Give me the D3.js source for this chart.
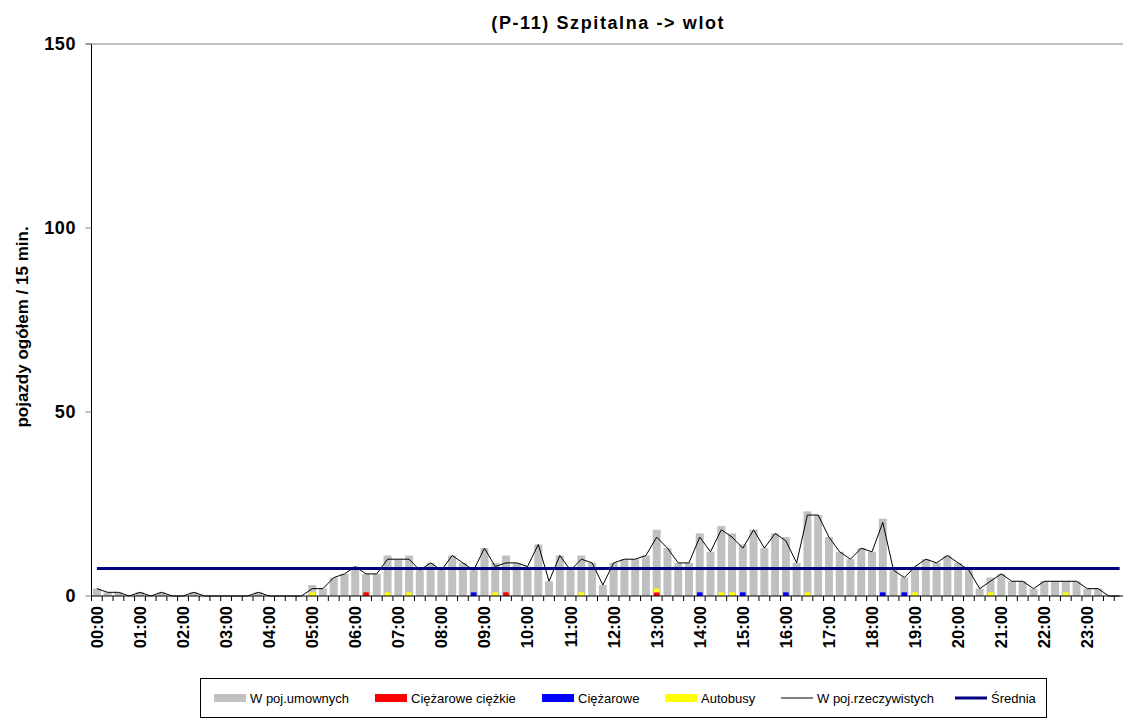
<!DOCTYPE html>
<html><head><meta charset="utf-8">
<script src="https://cdn.jsdelivr.net/npm/d3@7"></script>
<style>body{margin:0;background:#fff;} svg{display:block;}</style>
</head><body>
<svg id="chart" width="1123" height="723"></svg>
<script>
// ---- data ----
const title = "(P-11) Szpitalna -> wlot";
const yTitle = "pojazdy ogółem / 15 min.";
const hourLabels = ["00:00","01:00","02:00","03:00","04:00","05:00","06:00","07:00","08:00","09:00","10:00","11:00",
  "12:00","13:00","14:00","15:00","16:00","17:00","18:00","19:00","20:00","21:00","22:00","23:00"];
const quarters = ["00","15","30","45"];
const yTicks = [0, 50, 100, 150];
// W poj.umownych (PCU) per 15 min
const pcu = [2,1,1,0,1,0,1,0,0,1,0,0,0,0,0,1,0,0,0,0,3,2,5,6,
  8,6,6,11,10,11,7,9,7,11,9,7,13,9,11,9,8,14,4,11,7,11,9,3,
  9,10,10,11,18,13,9,9,17,12,19,17,14,18,13,17,16,9,23,22,16,12,10,13,
  12,21,7,5,8,10,9,11,9,7,2,5,6,4,4,2,4,4,4,4,2,2,0,0];
// W poj.rzeczywistych (real vehicles)
const real = [2,1,1,0,1,0,1,0,0,1,0,0,0,0,0,1,0,0,0,0,2,2,5,6,
  8,6,6,10,10,10,7,9,7,11,9,7,13,8,9,9,8,14,4,11,7,10,9,3,
  9,10,10,11,16,13,9,9,16,12,18,16,13,18,13,17,15,9,22,22,16,12,10,13,
  12,20,7,5,8,10,9,11,9,7,2,4,6,4,4,2,4,4,4,4,2,2,0,0];
// Ciężarowe ciężkie
const heavy = [0,0,0,0,0,0,0,0,0,0,0,0,0,0,0,0,0,0,0,0,0,0,0,0,
  0,1,0,0,0,0,0,0,0,0,0,0,0,0,1,0,0,0,0,0,0,0,0,0,
  0,0,0,0,1,0,0,0,0,0,0,0,0,0,0,0,0,0,0,0,0,0,0,0,
  0,0,0,0,0,0,0,0,0,0,0,0,0,0,0,0,0,0,0,0,0,0,0,0];
// Ciężarowe
const trucks = [0,0,0,0,0,0,0,0,0,0,0,0,0,0,0,0,0,0,0,0,0,0,0,0,
  0,0,0,0,0,0,0,0,0,0,0,1,0,0,0,0,0,0,0,0,0,0,0,0,
  0,0,0,0,0,0,0,0,1,0,0,0,1,0,0,0,1,0,0,0,0,0,0,0,
  0,1,0,1,0,0,0,0,0,0,0,0,0,0,0,0,0,0,0,0,0,0,0,0];
// Autobusy
const buses = [0,0,0,0,0,0,0,0,0,0,0,0,0,0,0,0,0,0,0,0,1,0,0,0,
  0,0,0,1,0,1,0,0,0,0,0,0,0,1,0,0,0,0,0,0,0,1,0,0,
  0,0,0,0,1,0,0,0,0,0,1,1,0,0,0,0,0,0,1,0,0,0,0,0,
  0,0,0,0,1,0,0,0,0,0,0,1,0,0,0,0,0,0,1,0,0,0,0,0];
const average = 7.5;
const legendItems = [
  {label:"W poj.umownych", type:"rect", color:"#c0c0c0"},
  {label:"Ciężarowe ciężkie", type:"rect", color:"#ff0000"},
  {label:"Ciężarowe", type:"rect", color:"#0000ff"},
  {label:"Autobusy", type:"rect", color:"#ffff00"},
  {label:"W poj.rzeczywistych", type:"line", color:"#000000", width:1},
  {label:"Średnia", type:"line", color:"#000080", width:3}
];
const categories = hourLabels.flatMap(h => quarters.map(q => h.slice(0,3) + q));

// ---- layout ----
const svg = d3.select("#chart");
const FONT = "Arial, 'Liberation Sans', sans-serif";
const x0 = 91.5, x1 = 1125, yTop = 44, yBot = 596;
const x = d3.scaleBand().domain(categories).range([x0, x1]).padding(0);
const y = d3.scaleLinear().domain([0, 150]).range([yBot, yTop]);
const bw = x.bandwidth();

// title
svg.append("text").attr("x", (x0 + x1) / 2).attr("y", 29).attr("text-anchor", "middle")
  .attr("font-family", FONT).attr("font-weight", "bold").attr("font-size", 18)
  .attr("letter-spacing", 1.6).text(title);

// top line at 150
svg.append("line").attr("x1", x0 - 6).attr("x2", 1123).attr("y1", y(150)).attr("y2", y(150))
  .attr("stroke", "#808080").attr("stroke-width", 1);

// bars
svg.append("g").selectAll("rect").data(pcu).join("rect")
  .attr("x", (d, i) => x(categories[i]) + bw * 0.13)
  .attr("width", bw * 0.74)
  .attr("y", d => y(d)).attr("height", d => y(0) - y(d))
  .attr("fill", "#c0c0c0");

// stacked small series
const stackSeries = [{v: heavy, c: "#ff0000"}, {v: trucks, c: "#0000ff"}, {v: buses, c: "#ffff00"}];
const base = categories.map(() => 0);
const g2 = svg.append("g");
stackSeries.forEach(s => {
  s.v.forEach((v, i) => {
    if (v > 0) {
      g2.append("rect").attr("x", x(categories[i]) + bw * 0.24).attr("width", bw * 0.52)
        .attr("y", y(base[i] + v)).attr("height", y(base[i]) - y(base[i] + v)).attr("fill", s.c);
      base[i] += v;
    }
  });
});

// line real vehicles
svg.append("path").datum(real)
  .attr("d", d3.line().x((d, i) => x(categories[i]) + bw / 2).y(d => y(d)))
  .attr("fill", "none").attr("stroke", "#000").attr("stroke-width", 1);

// average
svg.append("line").attr("x1", x(categories[0]) + bw / 2).attr("x2", x(categories[95]) + bw / 2)
  .attr("y1", y(average)).attr("y2", y(average)).attr("stroke", "#000080").attr("stroke-width", 3);

// y axis
const yAxis = svg.append("g");
yAxis.append("line").attr("x1", x0).attr("x2", x0).attr("y1", yTop).attr("y2", yBot).attr("stroke", "#000");
yAxis.selectAll(".yt").data(yTicks).join("line").attr("class", "yt")
  .attr("x1", x0 - 6).attr("x2", x0).attr("y1", d => y(d)).attr("y2", d => y(d)).attr("stroke", "#808080");
yAxis.selectAll("text").data(yTicks).join("text")
  .attr("x", 76).attr("y", d => y(d)).attr("dy", "0.36em").attr("text-anchor", "end")
  .attr("font-family", FONT).attr("font-weight", "bold").attr("font-size", 18)
  .attr("letter-spacing", 0.6).text(d => d);
svg.append("text").attr("transform", `translate(28,${(yTop + yBot) / 2 + 7}) rotate(-90)`)
  .attr("text-anchor", "middle").attr("font-family", FONT).attr("font-weight", "bold").attr("font-size", 17)
  .text(yTitle);

// x axis
const xAxis = svg.append("g");
xAxis.append("line").attr("x1", x0).attr("x2", 1123).attr("y1", yBot).attr("y2", yBot).attr("stroke", "#000");
xAxis.selectAll(".xt").data(categories).join("line").attr("class", "xt")
  .attr("x1", d => x(d)).attr("x2", d => x(d)).attr("y1", yBot).attr("y2", yBot + 5).attr("stroke", "#000");
xAxis.selectAll("text").data(hourLabels).join("text")
  .attr("transform", d => `translate(${x(d) + bw / 2},${yBot + 10}) rotate(-90)`)
  .attr("text-anchor", "end").attr("dy", "0.36em")
  .attr("font-family", FONT).attr("font-weight", "bold").attr("font-size", 16.5).text(d => d);

// legend
const lg = svg.append("g");
lg.append("rect").attr("x", 200.5).attr("y", 678.5).attr("width", 846).attr("height", 39)
  .attr("fill", "#fff").attr("stroke", "#000");
const legendX = [214, 375, 542, 665, 781, 955];
legendItems.forEach((it, i) => {
  const lx = legendX[i], ly = 698;
  if (it.type === "rect") {
    lg.append("rect").attr("x", lx).attr("y", ly - 4).attr("width", 32).attr("height", 8).attr("fill", it.color);
  } else {
    lg.append("line").attr("x1", lx).attr("x2", lx + 32).attr("y1", ly).attr("y2", ly)
      .attr("stroke", it.color).attr("stroke-width", it.width);
  }
  lg.append("text").attr("x", lx + 36).attr("y", ly).attr("dy", "0.36em")
    .attr("font-family", FONT).attr("font-size", 13).text(it.label);
});
</script>
</body></html>
